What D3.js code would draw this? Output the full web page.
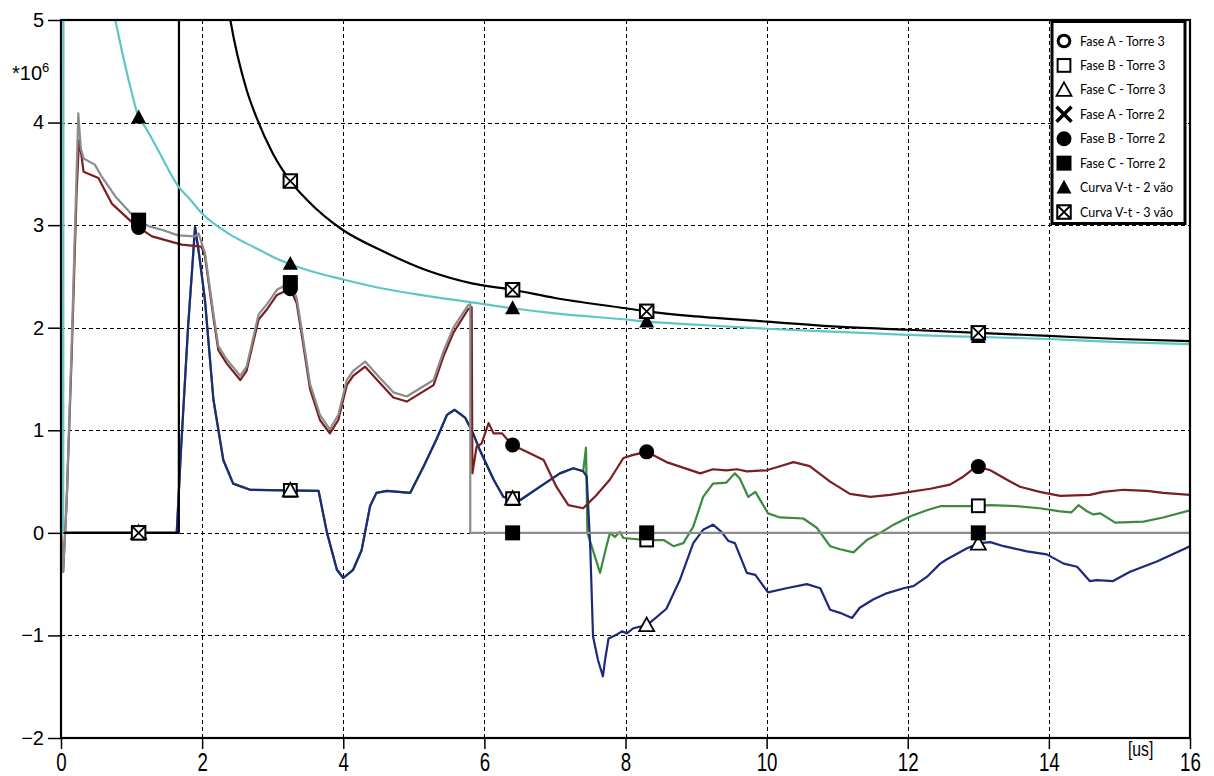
<!DOCTYPE html>
<html>
<head>
<meta charset="utf-8">
<script src="https://cdn.jsdelivr.net/npm/d3@7"></script>
<style>
  body { margin: 0; background: #fff; }
  svg { display: block; }
</style>
</head>
<body>
<svg id="chart" width="1214" height="776"></svg>
<script>
// Time in microseconds, voltage in units of 10^6 V.
const xTicks = [0, 2, 4, 6, 8, 10, 12, 14, 16];
const yTicks = [-2, -1, 0, 1, 2, 3, 4, 5];
const markerTimes = [1.1, 3.25, 6.4, 8.3, 13.0];

const legendLabels = [
  "Fase A - Torre 3", "Fase B - Torre 3", "Fase C - Torre 3",
  "Fase A - Torre 2", "Fase B - Torre 2", "Fase C - Torre 2",
  "Curva V-t - 2 vão", "Curva V-t - 3 vão"
];
const legendSymbols = ["circleOpen", "squareOpen", "triangleOpen", "cross",
                       "circle", "square", "triangle", "squareX"];

// Fase C - Torre 3 [t, V]
const faseCTorre3 = [
  [0,0],[1.64,0],[1.70,0.8],[1.80,2.0],[1.90,2.98],[1.96,2.7],[2.04,2.27],[2.16,1.30],
  [2.30,0.71],[2.44,0.48],[2.68,0.42],[3.65,0.41],[3.77,0.0],[3.91,-0.36],[4.0,-0.44],
  [4.14,-0.36],[4.26,-0.17],[4.38,0.26],[4.47,0.39],[4.62,0.41],[4.95,0.39],[5.14,0.65],
  [5.32,0.91],[5.47,1.15],[5.58,1.20],[5.73,1.12],[5.84,0.97],[5.94,0.80],[6.13,0.52],
  [6.27,0.35],[6.51,0.32],[6.79,0.45],[7.07,0.58],[7.26,0.63],[7.40,0.60],[7.45,0.55],
  [7.50,-0.13],[7.54,-1.01],[7.61,-1.24],[7.68,-1.40],[7.71,-1.24],[7.76,-1.03],[7.88,-0.99],
  [7.95,-0.96],[8.02,-0.98],[8.11,-0.93],[8.30,-0.90],[8.39,-0.85],[8.58,-0.74],[8.77,-0.46],
  [8.96,-0.10],[9.10,0.03],[9.24,0.08],[9.36,0.01],[9.46,-0.08],[9.55,-0.10],[9.72,-0.39],
  [9.84,-0.41],[10.02,-0.58],[10.28,-0.54],[10.57,-0.50],[10.76,-0.54],[10.90,-0.75],
  [11.04,-0.78],[11.21,-0.83],[11.32,-0.73],[11.51,-0.65],[11.70,-0.59],[11.94,-0.54],
  [12.08,-0.52],[12.27,-0.43],[12.46,-0.30],[12.55,-0.26],[12.84,-0.15],[13.02,-0.10],
  [13.17,-0.09],[13.36,-0.13],[13.69,-0.18],[13.97,-0.21],[14.21,-0.30],[14.40,-0.33],
  [14.58,-0.47],[14.68,-0.46],[14.91,-0.47],[15.15,-0.38],[15.53,-0.28],[16.0,-0.13]
];

// Fase B - Torre 3: identical to Fase C - Torre 3 up to t = 7.40, then separates
const faseBTorre3Split = 7.40;
const faseBTorre3Tail = [
  [7.44,0.83],[7.46,0.0],[7.52,-0.13],[7.64,-0.39],[7.73,-0.13],[7.78,0.0],[7.85,-0.04],
  [7.92,0.01],[7.97,-0.05],[8.30,-0.07],[8.54,-0.07],[8.68,-0.13],[8.82,-0.10],[8.96,0.06],
  [9.10,0.35],[9.24,0.48],[9.43,0.49],[9.55,0.58],[9.62,0.53],[9.74,0.35],[9.84,0.40],
  [10.02,0.19],[10.19,0.15],[10.52,0.14],[10.71,0.05],[10.90,-0.13],[11.04,-0.16],
  [11.23,-0.19],[11.42,-0.07],[11.61,0.0],[11.80,0.08],[12.03,0.16],[12.27,0.22],
  [12.46,0.26],[12.89,0.26],[13.17,0.27],[13.54,0.26],[13.87,0.24],[14.16,0.21],
  [14.32,0.20],[14.42,0.27],[14.54,0.21],[14.63,0.18],[14.73,0.19],[14.94,0.10],
  [15.34,0.11],[15.62,0.15],[16.0,0.22]
];

// Fase B - Torre 2
const faseBTorre2 = [
  [0,0],[0.03,-0.38],[0.08,0.3],[0.15,1.7],[0.22,3.3],[0.255,3.83],[0.29,3.68],[0.32,3.52],
  [0.53,3.46],[0.72,3.21],[1.05,3.0],[1.29,2.89],[1.71,2.81],[1.99,2.79],[2.04,2.70],
  [2.16,2.10],[2.23,1.78],[2.35,1.65],[2.54,1.49],[2.63,1.58],[2.80,2.08],[2.92,2.18],
  [3.06,2.32],[3.25,2.38],[3.34,2.24],[3.43,1.85],[3.53,1.40],[3.67,1.10],[3.81,0.97],
  [3.93,1.10],[4.05,1.44],[4.14,1.53],[4.31,1.62],[4.52,1.46],[4.71,1.32],[4.90,1.28],
  [5.09,1.36],[5.28,1.44],[5.42,1.72],[5.56,1.95],[5.77,2.18],[5.82,2.20],[5.83,0.58],
  [5.89,0.84],[5.96,0.87],[6.06,1.07],[6.13,0.97],[6.25,0.97],[6.39,0.86],[6.6,0.79],
  [6.84,0.71],[7.02,0.45],[7.19,0.27],[7.40,0.24],[7.59,0.37],[7.78,0.52],[7.97,0.73],
  [8.11,0.76],[8.30,0.79],[8.58,0.69],[9.06,0.58],[9.24,0.62],[9.43,0.61],[9.58,0.62],
  [9.72,0.60],[10.0,0.61],[10.19,0.65],[10.38,0.69],[10.61,0.65],[10.90,0.50],[11.18,0.38],
  [11.47,0.35],[11.75,0.37],[12.03,0.40],[12.32,0.43],[12.60,0.47],[12.79,0.55],[12.98,0.65],
  [13.17,0.61],[13.40,0.52],[13.59,0.45],[13.87,0.40],[14.16,0.36],[14.58,0.37],[14.77,0.40],
  [15.06,0.42],[15.39,0.41],[15.62,0.39],[16.0,0.37]
];

// Fase C - Torre 2
const faseCTorre2 = [
  [0,0],[0.03,-0.38],[0.08,0.3],[0.15,1.8],[0.245,4.09],[0.28,3.75],[0.32,3.65],[0.48,3.59],
  [0.58,3.47],[0.77,3.28],[1.05,3.07],[1.24,2.99],[1.45,2.95],[1.66,2.90],[1.90,2.89],
  [1.95,2.92],[2.01,2.79],[2.04,2.73],[2.16,2.14],[2.23,1.82],[2.35,1.69],[2.54,1.53],
  [2.63,1.62],[2.80,2.13],[2.92,2.23],[3.06,2.37],[3.25,2.44],[3.34,2.29],[3.43,1.90],
  [3.53,1.45],[3.67,1.15],[3.81,1.01],[3.93,1.15],[4.05,1.49],[4.14,1.58],[4.31,1.67],
  [4.52,1.51],[4.71,1.37],[4.90,1.33],[5.09,1.41],[5.28,1.49],[5.42,1.77],[5.56,2.00],
  [5.77,2.22],[5.80,2.23],[5.80,0],[16.0,0]
];

// Curva V-t - 2 vãos
const curvaVt2 = [
  [0,0],[0.03,0],[0.05,40],[0.3,8],[0.6,5.6],[0.77,5.0],[1.0,4.3],[1.1,4.05],[1.19,3.96],
  [1.29,3.84],[1.40,3.70],[1.66,3.38],[1.83,3.25],[1.99,3.12],[2.37,2.92],[2.75,2.78],
  [3.1,2.66],[3.5,2.56],[4.0,2.47],[4.5,2.39],[5.0,2.33],[5.9,2.24],[6.4,2.19],[7.0,2.14],
  [8.0,2.08],[8.3,2.06],[9.0,2.03],[10.0,1.99],[11.0,1.96],[12.0,1.93],[13.0,1.91],
  [14.0,1.89],[15.0,1.86],[16.0,1.84]
];

// Curva V-t - 3 vãos
const curvaVt3 = [
  [0,0],[1.67,0],[1.68,30],[2.2,6.0],[2.40,5.0],[2.63,4.32],[2.77,4.05],[3.0,3.7],
  [3.25,3.43],[3.48,3.25],[4.0,2.95],[4.52,2.76],[5.18,2.56],[5.84,2.43],[6.4,2.37],
  [7.0,2.29],[8.0,2.19],[8.3,2.16],[9.0,2.11],[10.0,2.06],[11.0,2.01],[12.0,1.98],
  [13.0,1.95],[14.0,1.92],[15.0,1.89],[16.0,1.87]
];

const faseBTorre3 = faseCTorre3.filter(d => d[0] <= faseBTorre3Split).concat(faseBTorre3Tail);

// drawing order: back to front
const series = [
  { data: faseBTorre3, color: "#3c8a3c", symbol: "squareOpen", curve: d3.curveLinear },
  { data: faseCTorre3, color: "#1b2a7c", symbol: "triangleOpen", curve: d3.curveLinear },
  { data: faseBTorre2, color: "#7a1f1f", symbol: "circle", curve: d3.curveLinear },
  { data: faseCTorre2, color: "#8c8c8c", symbol: "square", curve: d3.curveLinear },
  { data: curvaVt3, color: "#000000", symbol: "squareX", curve: d3.curveMonotoneX },
  { data: curvaVt2, color: "#5ec6c8", symbol: "triangle", curve: d3.curveMonotoneX }
];
// marker layer order follows the legend order
const markerOrder = ["squareOpen", "triangleOpen", "circle", "square", "triangle", "squareX"];

const svg = d3.select("#chart");
const W = 1214, H = 776;
const plot = { left: 61, right: 1190, top: 20, bottom: 738 };

const x = d3.scaleLinear().domain([0, 16]).range([plot.left, plot.right]);
const y = d3.scaleLinear().domain([-2, 5]).range([plot.bottom, plot.top]);

svg.append("rect").attr("width", W).attr("height", H).attr("fill", "#fff");

svg.append("defs").append("clipPath").attr("id", "plotClip")
  .append("rect")
  .attr("x", plot.left).attr("y", plot.top)
  .attr("width", plot.right - plot.left).attr("height", plot.bottom - plot.top);

// grid
const grid = svg.append("g").attr("stroke", "#000").attr("stroke-width", 1)
  .attr("stroke-dasharray", "4,3").attr("shape-rendering", "crispEdges");
grid.selectAll("line.vx").data(xTicks.filter(t => t > 0 && t < 16)).join("line")
  .attr("x1", d => Math.round(x(d)) + 0.5).attr("x2", d => Math.round(x(d)) + 0.5)
  .attr("y1", plot.top).attr("y2", plot.bottom);
grid.selectAll("line.hy").data(yTicks.filter(t => t > -2 && t < 5)).join("line")
  .attr("y1", d => Math.round(y(d)) + 0.5).attr("y2", d => Math.round(y(d)) + 0.5)
  .attr("x1", plot.left).attr("x2", plot.right);

// axes
const yAxis = d3.axisLeft(y).tickValues(yTicks).tickSize(13).tickPadding(4).tickFormat(d3.format("d"));
const gy = svg.append("g").attr("transform", `translate(${plot.left},0)`).call(yAxis);
gy.select(".domain").remove();
gy.selectAll(".tick line").attr("stroke", "#000").attr("stroke-width", 1.5);
gy.selectAll(".tick text").attr("font-family", "'Liberation Sans', Arial, sans-serif")
  .attr("font-size", 20).attr("fill", "#000");

const xAxis = d3.axisBottom(x).tickValues(xTicks).tickSize(11).tickPadding(4).tickFormat(d3.format("d"));
const gx = svg.append("g").attr("transform", `translate(0,${plot.bottom})`).call(xAxis);
gx.select(".domain").remove();
gx.selectAll(".tick line").attr("stroke", "#000").attr("stroke-width", 1.5);
gx.selectAll(".tick text").attr("font-family", "'Liberation Sans', Arial, sans-serif")
  .attr("font-size", 26).attr("fill", "#000")
  .attr("transform", "scale(0.72,1)");

// unit labels
const mult = svg.append("text").attr("x", 12).attr("y", 80)
  .attr("font-family", "'Liberation Sans', Arial, sans-serif").attr("font-size", 20).attr("fill", "#000");
mult.append("tspan").text("*10");
mult.append("tspan").attr("dy", -8).attr("font-size", 13).text("6");

svg.append("text")
  .attr("transform", `translate(${x(15.3)},${plot.bottom + 18}) scale(0.75,1)`)
  .attr("text-anchor", "middle")
  .attr("font-family", "'Liberation Sans', Arial, sans-serif")
  .attr("font-size", 21).attr("fill", "#000").text("[us]");

// curves
const curves = svg.append("g").attr("clip-path", "url(#plotClip)");
series.forEach(s => {
  curves.append("path")
    .datum(s.data)
    .attr("fill", "none")
    .attr("stroke", s.color)
    .attr("stroke-width", 2.2)
    .attr("stroke-linejoin", "round")
    .attr("d", d3.line().x(d => x(d[0])).y(d => y(d[1])).curve(s.curve));
});

// value of a series at time t (linear between samples)
function valueAt(data, t) {
  for (let i = data.length - 1; i > 0; i--) {
    const a = data[i - 1], b = data[i];
    if (a[0] <= t && t <= b[0]) {
      if (b[0] === a[0]) return b[1];
      return a[1] + (b[1] - a[1]) * (t - a[0]) / (b[0] - a[0]);
    }
  }
  return data[data.length - 1][1];
}

function drawSymbol(g, type, cx, cy, s) {
  const h = s / 2;
  if (type === "circleOpen") {
    g.append("circle").attr("cx", cx).attr("cy", cy).attr("r", h * 0.78)
      .attr("fill", "#fff").attr("stroke", "#000").attr("stroke-width", s * 0.2);
  } else if (type === "squareOpen") {
    g.append("rect").attr("x", cx - h * 0.85).attr("y", cy - h * 0.85)
      .attr("width", s * 0.85).attr("height", s * 0.85)
      .attr("fill", "#fff").attr("stroke", "#000").attr("stroke-width", 2);
  } else if (type === "triangleOpen") {
    g.append("path")
      .attr("d", `M${cx},${cy - h}L${cx + h},${cy + h * 0.8}L${cx - h},${cy + h * 0.8}Z`)
      .attr("fill", "#fff").attr("stroke", "#000").attr("stroke-width", 1.8)
      .attr("stroke-linejoin", "miter");
  } else if (type === "cross") {
    g.append("path")
      .attr("d", `M${cx - h},${cy - h}L${cx + h},${cy + h}M${cx + h},${cy - h}L${cx - h},${cy + h}`)
      .attr("stroke", "#000").attr("stroke-width", 3.5);
  } else if (type === "circle") {
    g.append("circle").attr("cx", cx).attr("cy", cy).attr("r", h).attr("fill", "#000");
  } else if (type === "square") {
    g.append("rect").attr("x", cx - h).attr("y", cy - h).attr("width", s).attr("height", s)
      .attr("fill", "#000");
  } else if (type === "triangle") {
    g.append("path")
      .attr("d", `M${cx},${cy - h * 1.05}L${cx + h},${cy + h * 0.8}L${cx - h},${cy + h * 0.8}Z`)
      .attr("fill", "#000");
  } else if (type === "squareX") {
    const a = h * 0.9;
    g.append("rect").attr("x", cx - a).attr("y", cy - a).attr("width", 2 * a).attr("height", 2 * a)
      .attr("fill", "#fff").attr("stroke", "#000").attr("stroke-width", 2);
    g.append("path")
      .attr("d", `M${cx - a},${cy - a}L${cx + a},${cy + a}M${cx + a},${cy - a}L${cx - a},${cy + a}`)
      .attr("stroke", "#000").attr("stroke-width", 1.8);
  }
}

// markers on the curves
const markers = svg.append("g");
markerOrder.forEach(sym => {
  const s = series.find(d => d.symbol === sym);
  markerTimes.forEach(t => {
    drawSymbol(markers, sym, x(t), y(valueAt(s.data, t)), 15);
  });
});

// plot frame
svg.append("rect")
  .attr("x", plot.left).attr("y", plot.top)
  .attr("width", plot.right - plot.left).attr("height", plot.bottom - plot.top)
  .attr("fill", "none").attr("stroke", "#000").attr("stroke-width", 2.2);

// legend
const legend = svg.append("g");
legend.append("rect")
  .attr("x", 1052).attr("y", 21.5).attr("width", 133).attr("height", 202)
  .attr("fill", "#fff").attr("stroke", "#000").attr("stroke-width", 3);
const rowY = d3.scaleLinear().domain([0, legendLabels.length - 1]).range([41, 212]);
legendLabels.forEach((label, i) => {
  drawSymbol(legend, legendSymbols[i], 1064, rowY(i), 15);
  legend.append("text")
    .attr("x", 1080).attr("y", rowY(i) + 4.5)
    .attr("font-family", "Lato, 'Open Sans', sans-serif")
    .attr("font-size", 12.5).attr("fill", "#000")
    .text(label);
});
</script>
</body>
</html>
